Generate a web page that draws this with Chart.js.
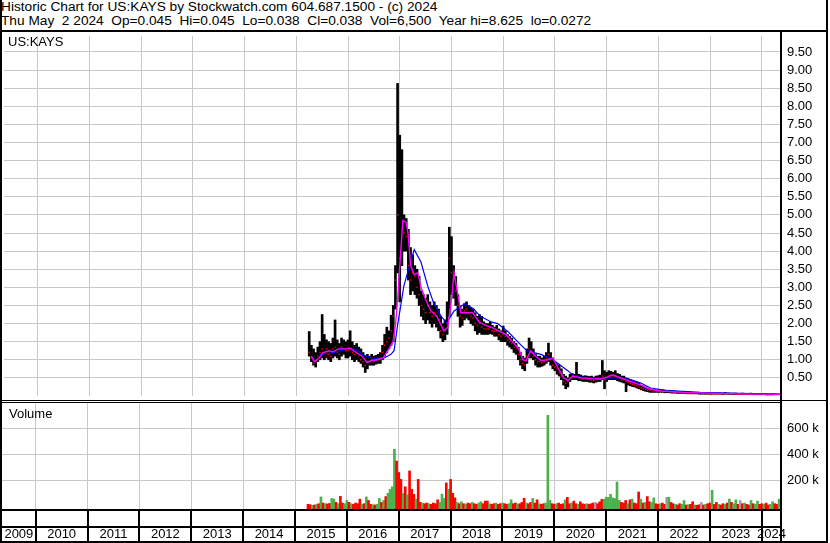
<!DOCTYPE html>
<html>
<head>
<meta charset="utf-8">
<script src="https://cdn.jsdelivr.net/npm/chart.js@4.4.1/dist/chart.umd.min.js"></script>
<style>
body { margin: 0; background: #fff; }
#wrap { position: relative; width: 830px; height: 543px; overflow: hidden; font-family: "Liberation Sans", Arial, sans-serif; font-size: 13.7px; color: #000; }
.t { position: absolute; white-space: pre; line-height: 13px; z-index: 2; }
.k { position: absolute; background: #000; z-index: 3; }
canvas { position: absolute; left: 0; }
</style>
</head>
<body>
<div id="wrap">
  <div class="t" style="left:1px;top:0px">Historic Chart for US:KAYS by Stockwatch.com 604.687.1500 - (c) 2024</div>
  <div class="t" style="left:1px;top:13.5px">Thu May  2 2024  Op=0.045  Hi=0.045  Lo=0.038  Cl=0.038  Vol=6,500  Year hi=8.625  lo=0.0272</div>
  <canvas id="price" width="830" height="368" style="top:32px"></canvas>
  <canvas id="vol" width="830" height="141" style="top:402px"></canvas>
  <div class="t" style="left:8px;top:35px;font-size:13px">US:KAYS</div>
  <div class="t" style="left:9px;top:407px;font-size:13px">Volume</div>
  <div class="k" style="left:0;top:30px;width:828px;height:2px"></div>
  <div class="k" style="left:0;top:0;width:2px;height:543px"></div>
  <div class="k" style="left:826px;top:0;width:2px;height:543px"></div>
  <div class="k" style="left:780px;top:32px;width:2px;height:511px"></div>
  <div class="k" style="left:0;top:400px;width:828px;height:1px"></div>
  <div class="k" style="left:0;top:402px;width:781px;height:1px"></div>
  <div class="k" style="left:0;top:509px;width:781px;height:2px"></div>
  <div class="k" style="left:0;top:526px;width:781px;height:2px"></div>
  <div class="k" style="left:0;top:541px;width:828px;height:2px"></div>
</div>
<script>
// half-month bars from Apr 2015 to May 2024
const start = 2015.25;
const hi = [
  1.78,1.4,1.3,1.2,1.35,1.5,2.25,1.7,1.55,1.5,1.45,1.6,2.1,1.55,1.45,1.6,1.55,1.5,
  1.55,1.8,1.5,1.4,1.45,1.35,1.3,1.2,1.1,1.15,1.1,1.15,1.1,1.12,1.15,1.2,1.4,1.7,1.9,1.8,2.23,2.5,3.6,8.63,
  7.2,6.8,5.0,4.9,4.6,4.1,3.9,3.6,3.5,3.3,2.9,2.8,2.7,2.8,2.6,2.5,2.6,2.5,2.4,2.2,2.0,2.1,2.6,4.66,
  4.4,3.6,3.3,2.8,2.5,2.4,2.55,2.6,2.5,2.45,2.4,2.3,2.2,2.25,2.2,2.05,2.0,2.0,2.05,1.95,1.9,1.95,1.85,1.8,
  1.93,1.8,1.7,1.65,1.6,1.5,1.45,1.35,1.2,1.1,1.05,1.3,1.6,1.5,1.3,1.15,1.1,1.1,1.05,1.1,1.2,1.46,1.2,1.05,
  0.95,0.9,0.85,0.75,0.6,0.55,0.5,0.6,0.62,0.6,0.93,0.6,0.58,0.55,0.56,0.55,0.54,0.55,0.52,0.55,0.56,0.58,0.98,0.7,
  0.65,0.7,0.68,0.65,0.7,0.62,0.6,0.55,0.55,0.5,0.48,0.45,0.42,0.4,0.38,0.35,0.3,0.28,0.25,0.22,0.2,0.18,0.18,0.17,
  0.17,0.16,0.17,0.16,0.15,0.16,0.15,0.14,0.14,0.13,0.12,0.12,0.12,0.11,0.11,0.11,0.1,0.1,0.1,0.1,0.1,0.09,0.09,0.09,
  0.09,0.09,0.08,0.08,0.09,0.08,0.08,0.1,0.08,0.08,0.07,0.08,0.08,0.07,0.07,0.08,0.07,0.07,0.07,0.08,0.07,0.07,0.07,0.07,
  0.07,0.065,0.07,0.06,0.06,0.065,0.06,0.055,0.05
];
const lo = [
  1.1,0.95,0.85,0.8,0.95,1.0,1.05,1.0,1.05,1.0,0.95,1.05,1.1,1.05,1.0,1.1,1.15,1.05,
  1.05,1.1,1.0,0.95,1.0,0.95,0.9,0.8,0.65,0.75,0.85,0.85,0.85,0.88,0.9,0.9,1.0,1.1,1.2,1.3,1.4,1.5,2.4,3.4,
  2.6,3.6,4.0,4.0,3.2,2.8,2.9,2.8,2.7,2.5,2.2,2.1,2.0,2.1,2.0,1.9,2.0,1.9,1.8,1.6,1.5,1.55,1.7,2.2,
  2.8,2.7,2.5,2.2,1.9,1.95,2.1,2.15,2.1,2.0,1.95,1.8,1.7,1.75,1.7,1.7,1.7,1.7,1.72,1.7,1.65,1.65,1.55,1.5,
  1.5,1.5,1.4,1.35,1.3,1.2,1.15,1.0,0.85,0.75,0.7,0.9,1.05,1.05,1.0,0.85,0.8,0.8,0.82,0.85,0.9,0.95,0.85,0.75,
  0.7,0.6,0.55,0.45,0.3,0.2,0.25,0.4,0.45,0.45,0.45,0.42,0.42,0.4,0.4,0.4,0.38,0.38,0.36,0.38,0.4,0.4,0.45,0.2,
  0.4,0.45,0.45,0.45,0.45,0.42,0.4,0.38,0.36,0.12,0.3,0.28,0.26,0.25,0.22,0.2,0.17,0.15,0.13,0.12,0.1,0.1,0.1,0.1,
  0.1,0.1,0.1,0.09,0.09,0.09,0.08,0.08,0.08,0.07,0.07,0.07,0.07,0.06,0.06,0.06,0.06,0.06,0.06,0.05,0.05,0.05,0.05,0.05,
  0.05,0.05,0.05,0.05,0.05,0.05,0.04,0.05,0.05,0.04,0.04,0.04,0.04,0.04,0.04,0.04,0.04,0.04,0.04,0.04,0.035,0.035,0.035,0.035,
  0.035,0.035,0.03,0.03,0.03,0.03,0.035,0.035,0.035
];
const cl = [
  1.2,1.05,0.9,0.95,1.1,1.2,1.3,1.2,1.3,1.15,1.1,1.3,1.35,1.2,1.15,1.35,1.3,1.25,
  1.25,1.3,1.2,1.15,1.2,1.1,1.0,0.95,0.85,0.95,0.95,1.0,0.95,1.0,1.0,1.05,1.2,1.4,1.5,1.6,1.8,2.2,3.2,5.0,
  3.8,4.6,4.5,4.4,3.6,3.2,3.4,3.3,3.0,2.8,2.5,2.4,2.3,2.5,2.3,2.2,2.3,2.2,2.1,1.8,1.7,1.8,2.0,3.8,
  3.4,3.2,2.9,2.5,2.2,2.15,2.35,2.4,2.3,2.2,2.15,2.0,1.95,2.0,1.9,1.85,1.85,1.85,1.9,1.8,1.78,1.8,1.7,1.65,
  1.7,1.65,1.55,1.5,1.45,1.35,1.3,1.15,1.0,0.9,0.85,1.1,1.3,1.2,1.1,1.0,0.95,0.95,0.92,0.95,1.05,1.15,1.0,0.85,
  0.8,0.75,0.65,0.55,0.4,0.35,0.4,0.5,0.55,0.52,0.55,0.5,0.48,0.47,0.48,0.46,0.45,0.44,0.43,0.45,0.47,0.48,0.55,0.45,
  0.5,0.55,0.58,0.55,0.55,0.5,0.5,0.45,0.45,0.4,0.38,0.35,0.32,0.3,0.28,0.25,0.22,0.2,0.18,0.16,0.15,0.14,0.13,0.13,
  0.13,0.12,0.13,0.12,0.12,0.12,0.11,0.1,0.1,0.1,0.09,0.09,0.09,0.08,0.08,0.08,0.08,0.07,0.07,0.07,0.07,0.07,0.06,0.06,
  0.06,0.06,0.06,0.06,0.06,0.06,0.055,0.06,0.06,0.055,0.05,0.055,0.05,0.05,0.05,0.05,0.05,0.05,0.05,0.05,0.045,0.045,0.045,0.045,
  0.045,0.045,0.04,0.04,0.04,0.045,0.04,0.04,0.038
];
// volume, thousands of shares, same half-month periods
const vol = [
  15,12,8,10,15,20,72,25,20,18,22,60,55,30,20,77,25,20,
  45,30,20,15,25,20,55,15,20,72,45,15,12,10,15,60,30,45,75,100,130,150,438,348,
  260,207,100,150,90,272,131,92,55,207,30,25,20,25,20,15,25,20,50,30,93,60,180,130,
  207,100,65,30,20,35,20,15,25,20,30,20,15,25,35,20,40,40,20,15,20,25,15,20,
  25,20,15,20,50,20,25,15,20,30,62,25,20,30,60,25,50,20,15,20,25,700,45,20,
  15,20,25,15,20,50,69,20,25,40,20,15,35,20,15,20,15,20,25,30,20,35,54,54,
  70,69,92,65,60,187,45,30,25,45,20,50,55,25,20,110,55,25,30,75,35,30,65,20,
  15,20,25,15,69,70,30,20,15,10,20,15,45,10,12,15,35,10,8,12,30,10,15,20,
  25,123,15,30,15,10,20,15,25,55,30,20,50,15,45,20,25,15,10,45,20,15,40,15,
  20,15,25,10,15,35,20,15,55
];
// g = up day, r = down day, n = unchanged
const volDir = (
  'rrgrgrgrgrrggrgrrg' +
  'grgrrrrgrgrrgrggrgrggggr' +
  'rrgrgrrrgrrgrrgrrrrgggrg' +
  'rrrgrgrgrrgrrggrrrgrrgrr' +
  'grrggrrgrrrgrrgrrgrrgggr' +
  'rgrrrgrrgrrgrrrgrrrnrrrg' +
  'gggggggrrrgrgrrrgrgrrggr' +
  'rgrrngrrgrrggrgrrgrrnrgr' +
  'rgrrgrrgrgrggrnrgrrgrggr' +
  'rgrrggrrg'
).split('');

const maFastT = [2015.29,2015.35,2015.44,2015.52,2015.64,2015.71,2015.81,2015.93,2016.04,2016.16,2016.27,2016.37,2016.45,2016.56,2016.68,2016.79,2016.87,2016.92,2016.96,2017.02,2017.06,2017.12,2017.16,2017.21,2017.28,2017.35,2017.41,2017.49,2017.60,2017.72,2017.85,2017.93,2018.01,2018.05,2018.11,2018.18,2018.30,2018.41,2018.53,2018.66,2018.80,2018.91,2019.05,2019.18,2019.30,2019.38,2019.44,2019.53,2019.63,2019.73,2019.86,2019.96,2020.05,2020.17,2020.25,2020.35,2020.50,2020.69,2020.89,2021.00,2021.12,2021.27,2021.46,2021.66,2021.81,2022.04,2022.48,2023.00,2023.58,2024.35];
const maFast  = [1.1,0.95,1.05,1.2,1.25,1.22,1.3,1.3,1.32,1.2,1.1,0.92,0.98,1.0,1.05,1.3,1.5,2.0,2.7,4.0,4.85,4.8,4.5,3.6,3.35,3.4,3.0,2.7,2.35,2.2,1.8,1.9,2.8,3.4,2.9,2.3,2.3,2.3,2.05,1.95,1.88,1.8,1.7,1.5,1.3,1.0,0.97,1.25,1.1,0.98,1.0,1.05,0.8,0.5,0.43,0.55,0.5,0.48,0.47,0.52,0.58,0.5,0.4,0.3,0.2,0.14,0.1,0.08,0.06,0.045];
const maSlowT = [2015.45,2015.73,2016.00,2016.16,2016.31,2016.50,2016.70,2016.83,2016.89,2016.96,2017.02,2017.08,2017.19,2017.28,2017.41,2017.54,2017.66,2017.80,2017.91,2018.05,2018.26,2018.43,2018.56,2018.76,2018.89,2019.09,2019.34,2019.47,2019.73,2019.98,2020.25,2020.37,2020.63,2021.02,2021.27,2021.46,2021.66,2021.85,2022.18,2022.48,2022.81,2023.58,2024.35];
const maSlow  = [1.15,1.2,1.31,1.28,1.12,1.04,1.05,1.15,1.25,1.97,2.5,3.04,3.6,4.04,3.7,3.04,2.55,2.2,2.02,2.35,2.55,2.4,2.2,2.05,2.0,1.78,1.41,1.24,1.15,0.98,0.7,0.55,0.5,0.5,0.5,0.45,0.36,0.22,0.15,0.13,0.1,0.07,0.05];

const yearLabels = ['2009','2010','2011','2012','2013','2014','2015','2016','2017','2018','2019','2020','2021','2022','2023','2024'];
const priceTicks = [0.5,1,1.5,2,2.5,3,3.5,4,4.5,5,5.5,6,6.5,7,7.5,8,8.5,9,9.5];
const volTicks = [200000,400000,600000];

const xMin = 2009.35, xMax = 2024.37;
const yearBounds = yearLabels.slice(1).map(Number);
const yearMids = yearLabels.map(y => (Math.max(+y, xMin) + Math.min(+y + 1, xMax)) / 2);
const t = hi.map((_, i) => start + i / 24);
const dirColor = { g: '#4cb04c', r: '#ff0000', n: '#a0a0a0' };

Chart.defaults.font.family = '"Liberation Sans", Arial, sans-serif';
Chart.defaults.font.size = 13;
Chart.defaults.color = '#000';

const base = {
  responsive: false,
  animation: false,
  devicePixelRatio: 1,
  plugins: { legend: { display: false }, tooltip: { enabled: false } }
};

// no extra room for labels hanging over the ends of an axis
function noPad(s) {
  s.paddingTop = 0; s.paddingBottom = 0; s.paddingLeft = 0; s.paddingRight = 0;
}

new Chart(document.getElementById('price'), {
  type: 'bar',
  data: {
    datasets: [
      { type: 'line', data: maFastT.map((x, i) => ({ x, y: maFast[i] })), borderColor: '#ff00ff', borderWidth: 1.4, pointRadius: 0, order: 0 },
      { type: 'line', data: maSlowT.map((x, i) => ({ x, y: maSlow[i] })), borderColor: '#0000ff', borderWidth: 1.2, pointRadius: 0, order: 0 },
      { type: 'scatter', data: t.map((x, i) => ({ x, y: cl[i] })), backgroundColor: '#ff0000', borderWidth: 0, pointStyle: 'rect', pointRadius: 1, order: 1 },
      { type: 'bar', data: t.map((x, i) => ({ x, y: [lo[i], hi[i]] })), backgroundColor: '#000', barThickness: 2, order: 2 }
    ]
  },
  options: {
    ...base,
    layout: { padding: { left: 2, right: 0, top: 0, bottom: 1 } },
    scales: {
      x: {
        type: 'linear', min: xMin, max: xMax, offset: false,
        afterBuildTicks: s => { s.ticks = yearBounds.map(v => ({ value: v })); },
        ticks: { display: false },
        grid: { color: '#c8c8c8', drawTicks: false, offset: false },
        border: { display: false },
        afterFit: s => { s.height = 0; noPad(s); }
      },
      y: {
        position: 'right', min: 0, max: 9.94,
        afterBuildTicks: s => { s.ticks = priceTicks.map(v => ({ value: v })); },
        ticks: { padding: 6, callback: v => v.toFixed(2) },
        grid: { color: '#c8c8c8', drawTicks: false },
        border: { display: false },
        afterFit: s => { s.width = 49; noPad(s); }
      }
    }
  }
});

const separators = {
  id: 'separators',
  afterDraw(chart) {
    const ctx = chart.ctx, xs = chart.scales.x, top = chart.chartArea.bottom;
    ctx.save();
    ctx.fillStyle = '#000';
    yearBounds.forEach(v => {
      const px = Math.round(xs.getPixelForValue(v));
      ctx.fillRect(px - 1, top, 2, chart.height - top);
    });
    ctx.restore();
  }
};

new Chart(document.getElementById('vol'), {
  type: 'bar',
  data: {
    datasets: [{
      data: t.map((x, i) => ({ x, y: vol[i] * 1000 })),
      backgroundColor: volDir.map(d => dirColor[d]),
      barThickness: 2,
      base: -20800
    }]
  },
  options: {
    ...base,
    layout: { padding: { left: 2, right: 0, top: 1, bottom: 0 } },
    scales: {
      x: {
        type: 'linear', min: xMin, max: xMax, offset: false,
        afterBuildTicks: s => { s.ticks = yearBounds.concat(yearMids).map(v => ({ value: v })); },
        ticks: {
          autoSkip: false, maxRotation: 0, minRotation: 0, padding: 18,
          callback: v => { const i = yearMids.indexOf(v); return i >= 0 ? yearLabels[i] : ''; }
        },
        grid: {
          color: c => Number.isInteger(c.tick.value) ? '#c8c8c8' : 'rgba(0,0,0,0)',
          drawTicks: false, offset: false
        },
        border: { display: false },
        afterFit: s => { s.height = 34; noPad(s); }
      },
      y: {
        position: 'right', min: -20800, max: 794600,
        afterBuildTicks: s => { s.ticks = volTicks.map(v => ({ value: v })); },
        ticks: { padding: 6, callback: v => (v / 1000) + ' k' },
        grid: { color: '#c8c8c8', drawTicks: false },
        border: { display: false },
        afterFit: s => { s.width = 49; noPad(s); }
      }
    }
  },
  plugins: [separators]
});
</script>
</body>
</html>
